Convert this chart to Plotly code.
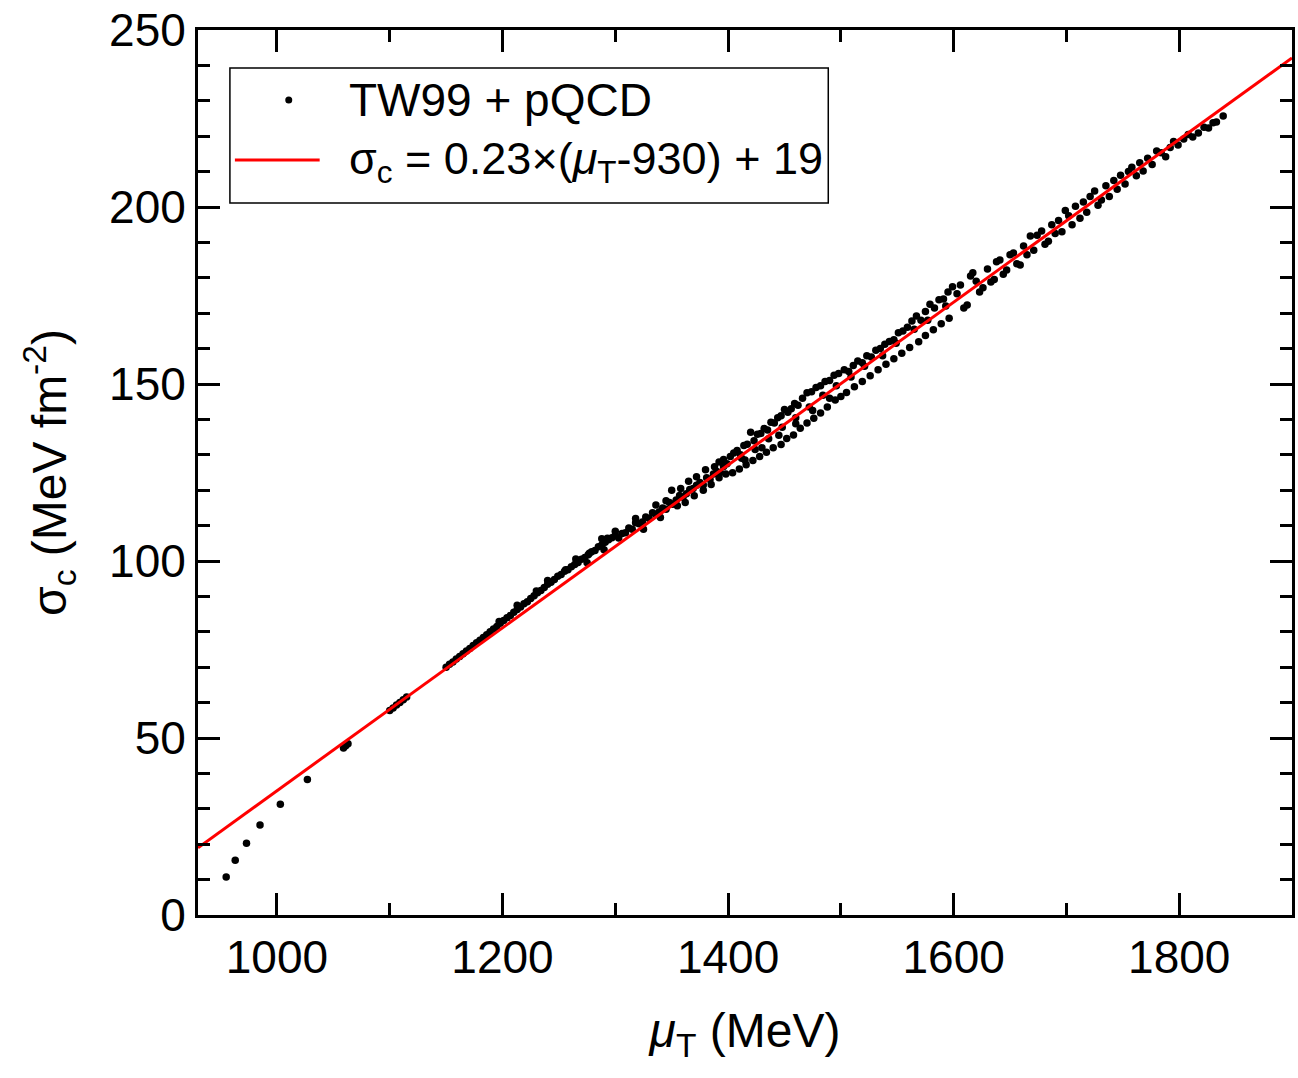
import plotly.graph_objects as go

# ---- data: TW99 + pQCD points (mu_T in MeV, sigma_c in MeV fm^-2) ----
mu_low = [955, 963, 973, 985, 1003, 1027, 1059, 1061, 1063,
          1100, 1103, 1106, 1109, 1112, 1115]
sig_low = [10.7, 15.5, 20.3, 25.4, 31.3, 38.3, 47.2, 47.8, 48.4,
           57.8, 58.5, 59.3, 60.0, 60.8, 61.6]

mu_a = [1150, 1153, 1156, 1159, 1162, 1165, 1168, 1171, 1174, 1177, 1180, 1183, 1186, 1189,
        1192, 1195, 1198, 1201, 1204, 1207, 1210, 1213, 1216, 1219, 1222, 1225, 1228, 1231,
        1234, 1237, 1240, 1243, 1246, 1249, 1252, 1255, 1258, 1261, 1264, 1267, 1270, 1273,
        1276, 1279, 1282, 1285, 1288, 1291, 1294, 1297, 1300,
        1213, 1240, 1256, 1265, 1277, 1288, 1293, 1300, 1275, 1290, 1197, 1230]
sig_a = [70.0, 70.8, 71.5, 72.3, 73.0, 73.8, 74.6, 75.3, 76.1, 76.9, 77.6, 78.4, 79.2, 80.0,
         80.8, 81.5, 82.4, 83.2, 84.0, 84.6, 85.5, 86.3, 87.0, 87.9, 88.5, 89.4, 90.2, 91.0,
         91.7, 92.5, 93.4, 94.0, 94.8, 95.7, 96.2, 97.1, 97.5, 98.4, 99.0, 99.6, 100.5, 101.0,
         101.8, 102.6, 103.0, 104.0, 104.5, 105.3, 106.0, 106.6, 107.3,
         87.5, 94.5, 97.5, 100.6, 102.2, 106.3, 106.4, 108.4, 99.5, 103.2, 82.9, 91.5]

mu_b = [1303, 1306, 1309, 1312, 1315, 1318, 1321, 1324, 1327, 1330, 1333, 1336, 1339, 1342,
        1345, 1348, 1351, 1354, 1357, 1360, 1363, 1366, 1369, 1372, 1375, 1378, 1381, 1384,
        1387, 1390, 1393, 1396, 1399,
        1325, 1340, 1355, 1362, 1370, 1378, 1385, 1392, 1398,
        1318, 1345, 1358, 1372, 1388, 1396, 1336, 1350, 1365, 1380, 1392]
sig_b = [106.5, 107.8, 108.0, 109.3, 109.0, 110.8, 110.5, 111.0, 112.4, 112.0, 113.6, 113.2, 113.9, 115.0,
         114.6, 116.5, 116.0, 117.2, 118.5, 118.0, 119.0, 120.2, 120.5, 121.4, 122.2, 121.5, 123.5, 123.0,
         124.6, 125.3, 125.0, 126.7, 127.5,
         109.0, 112.3, 115.6, 116.5, 118.4, 120.0, 121.6, 123.5, 124.6,
         112.0, 117.0, 120.5, 123.8, 126.6, 128.7, 115.8, 120.0, 122.5, 125.8, 128.0]

mu_c = [1402, 1405, 1408, 1411, 1414, 1417, 1420, 1423, 1426, 1429, 1432, 1435, 1438, 1441,
        1444, 1447, 1450, 1453, 1456, 1459, 1462, 1466, 1470, 1474, 1478, 1482, 1486, 1490,
        1494, 1498,
        1404, 1410, 1416, 1422, 1428, 1434, 1440, 1447, 1452, 1458, 1464, 1470, 1476, 1482,
        1488, 1495, 1500,
        1415, 1430, 1445, 1460, 1475, 1490,
        1412, 1424, 1436, 1448, 1460, 1472, 1484, 1496]
sig_c = [129.5, 130.5, 131.2, 130.0, 132.6, 133.0, 136.4, 134.0, 135.8, 136.0, 137.4, 137.0, 139.2, 139.0,
         140.5, 141.0, 142.8, 142.0, 143.0, 144.5, 144.0, 146.0, 147.5, 147.8, 149.0, 149.5, 150.7, 151.0,
         152.5, 153.0,
         124.9, 126.0, 127.2, 128.4, 129.5, 130.7, 132.0, 132.9, 134.6, 135.6, 137.5, 139.0, 140.3, 141.8,
         143.5, 145.5, 146.5,
         128.5, 132.0, 135.5, 138.8, 142.5, 146.0,
         129.0, 131.5, 134.5, 137.8, 140.5, 143.5, 146.8, 149.5]

mu_d = [1503, 1507, 1511, 1515, 1519, 1523, 1527, 1531, 1535, 1539, 1543, 1547, 1551, 1555,
        1559, 1563, 1567, 1571, 1575, 1579, 1583, 1587, 1591, 1595, 1599,
        1505, 1512, 1519, 1526, 1533, 1540, 1547, 1554, 1561, 1569, 1575, 1582, 1589, 1596,
        1509, 1521, 1537, 1549, 1565, 1577, 1593]
sig_d = [154.0, 153.5, 155.2, 156.5, 156.0, 158.0, 157.6, 159.5, 160.0, 161.2, 162.0, 162.5, 164.5, 165.0,
         166.0, 167.8, 169.2, 168.0, 170.5, 172.5, 171.5, 173.8, 174.0, 176.0, 177.5,
         147.6, 149.2, 150.7, 152.3, 154.0, 155.6, 157.1, 158.7, 160.3, 161.9, 163.7, 165.3, 167.0, 168.6,
         152.0, 155.0, 158.0, 161.5, 165.5, 168.0, 172.0]

mu_e = [1603, 1606, 1609, 1612, 1615, 1617, 1620, 1623, 1626, 1630, 1633, 1636, 1638, 1641,
        1644, 1647, 1650, 1653, 1656, 1659, 1662, 1665, 1668, 1671, 1674, 1678, 1681, 1684,
        1687, 1690, 1693, 1696, 1699,
        1702, 1705, 1708, 1712, 1715, 1718, 1721, 1725, 1728, 1731, 1735, 1738, 1742, 1745,
        1748, 1752, 1755, 1758, 1762, 1765, 1768, 1772, 1776, 1780, 1784, 1788, 1792, 1795,
        1799, 1804, 1808, 1812, 1817, 1822, 1826, 1830, 1833, 1839]
sig_e = [175.5, 178.0, 171.5, 172.3, 180.5, 181.4, 179.0, 176.0, 177.2, 182.5, 178.8, 179.5, 184.5, 185.0,
         181.0, 182.2, 186.5, 187.0, 184.0, 183.6, 189.0, 186.5, 191.8, 187.8, 192.0, 193.2, 189.5, 190.3,
         195.0, 192.5, 196.2, 193.0, 199.0,
         197.5, 195.0, 200.2, 196.8, 201.4, 198.5, 203.0, 204.5, 200.5, 202.0, 206.0, 203.0, 207.5, 205.0,
         209.0, 206.5, 210.0, 211.2, 208.8, 212.5, 210.2, 213.8, 212.0, 215.8, 215.3, 214.2, 216.8, 218.5,
         217.5, 219.2, 220.5, 219.8, 220.9, 222.5, 222.3, 223.8, 224.0, 225.7]

mu_points = mu_low + mu_a + mu_b + mu_c + mu_d + mu_e
sig_points = sig_low + sig_a + sig_b + sig_c + sig_d + sig_e

# ---- fit line endpoints: sigma_c = 0.23*(mu_T-930) + 19 ----
fit_mu = [930, 1900]
fit_sig = [19.0, 242.1]

x_range = [930, 1900]
y_range = [0, 250]

FONT = "Liberation Sans, Arial, sans-serif"

fig = go.Figure()
fig.add_trace(go.Scatter(x=mu_points, y=sig_points, mode="markers",
                         marker=dict(color="black", size=7.5),
                         name="TW99 + pQCD", showlegend=False))
fig.add_trace(go.Scatter(x=fit_mu, y=fit_sig, mode="lines",
                         line=dict(color="#ff0000", width=3),
                         name="fit", showlegend=False))

axis_common = dict(showgrid=False, zeroline=False, showline=True, linecolor="black",
                   linewidth=3, mirror="allticks", ticks="inside", ticklen=22,
                   tickwidth=3, tickcolor="black",
                   tickfont=dict(family=FONT, size=46, color="black"))

fig.update_xaxes(range=x_range, tick0=0, dtick=200,
                 minor=dict(ticks="inside", dtick=100, ticklen=12, tickwidth=3, tickcolor="black"),
                 title=dict(text="<i>μ</i><sub>T</sub> (MeV)",
                            font=dict(family=FONT, size=48, color="black"), standoff=32),
                 **axis_common)
fig.update_yaxes(range=y_range, tick0=0, dtick=50,
                 minor=dict(ticks="inside", dtick=10, ticklen=12, tickwidth=3, tickcolor="black"),
                 title=dict(text="σ<sub>c</sub> (MeV fm<sup>-2</sup>)",
                            font=dict(family=FONT, size=48, color="black"), standoff=28),
                 **axis_common)

W, H = 1298, 1078
L, R, T, B = 198, 3, 30, 163
pw, ph = W - L - R, H - T - B


def px(xp):
    return (xp - L) / pw


def py(yp):
    return 1 - (yp - T) / ph


shapes = [
    dict(type="rect", xref="paper", yref="paper", x0=px(230), x1=px(830), y0=py(203), y1=py(68),
         line=dict(color="black", width=1.5), fillcolor="white", layer="above"),
    dict(type="line", xref="paper", yref="paper", x0=px(235), x1=px(320), y0=py(160), y1=py(160),
         line=dict(color="#ff0000", width=3), layer="above"),
    dict(type="circle", xref="paper", yref="paper", xsizemode="pixel", ysizemode="pixel",
         xanchor=px(289), yanchor=py(100), x0=-3.5, x1=3.5, y0=-3.5, y1=3.5,
         fillcolor="black", line=dict(color="black", width=0), layer="above"),
]
annotations = [
    dict(xref="paper", yref="paper", x=px(347), y=py(100), xanchor="left", yanchor="middle",
         text="TW99 + pQCD", showarrow=False, font=dict(family=FONT, size=46, color="black")),
    dict(xref="paper", yref="paper", x=px(347), y=py(162), xanchor="left", yanchor="middle",
         text="σ<sub>c</sub> = 0.23×(<i>μ</i><sub>T</sub>-930) + 19", showarrow=False,
         font=dict(family=FONT, size=45, color="black")),
]

fig.update_layout(width=W, height=H, margin=dict(l=L, r=R, t=T, b=B),
                  paper_bgcolor="white", plot_bgcolor="white",
                  shapes=shapes, annotations=annotations, showlegend=False)

fig.write_html("out.html")
